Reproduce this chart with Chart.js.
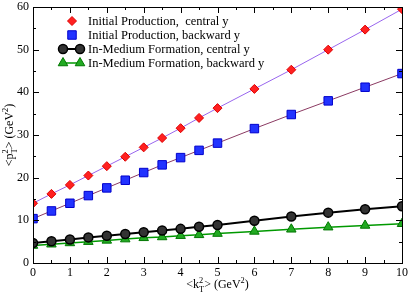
<!DOCTYPE html>
<html>
<head>
<meta charset="utf-8">
<script src="https://cdn.jsdelivr.net/npm/chart.js@4/dist/chart.umd.min.js"></script>
<style>
  html, body { margin: 0; padding: 0; background: #fff; }
  #wrap { width: 409px; height: 294px; }
</style>
</head>
<body>
<div id="wrap"><canvas id="chart" width="409" height="294"></canvas></div>
<script>
// valores
const kT2 = [0, 0.5, 1, 1.5, 2, 2.5, 3, 3.5, 4, 4.5, 5, 6, 7, 8, 9, 10];
const initCentral  = [14.0, 16.2, 18.3, 20.5, 22.7, 24.9, 27.1, 29.3, 31.6, 34.0, 36.3, 40.8, 45.3, 50.0, 54.7, 59.5];
const initBackward = [10.4, 12.2, 14.0, 15.8, 17.6, 19.4, 21.2, 23.0, 24.7, 26.4, 28.1, 31.5, 34.8, 38.0, 41.2, 44.4];
const medCentral   = [4.7, 5.1, 5.5, 6.0, 6.4, 6.8, 7.2, 7.6, 8.0, 8.5, 8.9, 9.9, 10.9, 11.8, 12.6, 13.3];
const medBackward  = [4.1, 4.4, 4.7, 5.0, 5.3, 5.6, 5.9, 6.1, 6.4, 6.6, 6.9, 7.4, 7.9, 8.4, 8.8, 9.2];
const seriesNames = [
  'Initial Production,  central y',
  'Initial Production, backward y',
  'In-Medium Formation, central y',
  'In-Medium Formation, backward y'
];
const xTicks = [0, 1, 2, 3, 4, 5, 6, 7, 8, 9, 10];
const yTicks = [0, 10, 20, 30, 40, 50, 60];

const FONT = "'Liberation Serif', 'DejaVu Serif', serif";

function pts(ys) {
  return kT2.map((x, i) => ({ x: x, y: ys[i] }));
}

// texto con subindices / superindices
function richWidth(ctx, parts, size) {
  let w = 0;
  parts.forEach(p => {
    if (p.t) { ctx.font = size + 'px ' + FONT; w += ctx.measureText(p.t).width; }
    else {
      ctx.font = (size * 0.7) + 'px ' + FONT;
      w += Math.max(ctx.measureText(p.sub || '').width, ctx.measureText(p.sup || '').width);
    }
  });
  return w;
}
function drawRich(ctx, parts, x, y, size) {
  let cx = x - richWidth(ctx, parts, size) / 2;
  ctx.textBaseline = 'alphabetic';
  ctx.textAlign = 'left';
  parts.forEach(p => {
    if (p.t) {
      ctx.font = size + 'px ' + FONT;
      ctx.fillText(p.t, cx, y);
      cx += ctx.measureText(p.t).width;
    } else {
      ctx.font = (size * 0.7) + 'px ' + FONT;
      let w = 0;
      if (p.sub) { ctx.fillText(p.sub, cx, y + size * 0.3); w = ctx.measureText(p.sub).width; }
      if (p.sup) { ctx.fillText(p.sup, cx, y - size * 0.45); w = Math.max(w, ctx.measureText(p.sup).width); }
      cx += w;
    }
  });
}

function drawMarker(ctx, ds, x, y) {
  ctx.save();
  ctx.fillStyle = ds.pointBackgroundColor;
  ctx.strokeStyle = ds.pointBorderColor;
  ctx.lineWidth = ds.pointBorderWidth;
  ctx.beginPath();
  const r = ds.pointRadius;
  if (ds.pointStyle === 'rectRot') {
    ctx.moveTo(x, y - r); ctx.lineTo(x + r, y); ctx.lineTo(x, y + r); ctx.lineTo(x - r, y); ctx.closePath();
  } else if (ds.pointStyle === 'rect') {
    const s = r * Math.SQRT1_2;
    ctx.rect(x - s, y - s, 2 * s, 2 * s);
  } else if (ds.pointStyle === 'triangle') {
    ctx.moveTo(x, y - r); ctx.lineTo(x + r * 0.87, y + r * 0.5); ctx.lineTo(x - r * 0.87, y + r * 0.5); ctx.closePath();
  } else {
    ctx.arc(x, y, r, 0, Math.PI * 2);
  }
  ctx.fill(); ctx.stroke();
  ctx.restore();
}

const framePlugin = {
  id: 'frame',
  afterDraw(chart) {
    const ctx = chart.ctx;
    const a = chart.chartArea;
    const xs = chart.scales.x, ys = chart.scales.y;
    ctx.save();
    ctx.strokeStyle = '#000';
    ctx.lineWidth = 1;
    ctx.strokeRect(Math.round(a.left) + 0.5, Math.round(a.top) + 0.5,
      Math.round(a.right - a.left), Math.round(a.bottom - a.top));
    // marcas hacia dentro
    ctx.beginPath();
    for (let v = 0; v <= 10.001; v += 0.5) {
      const px = Math.round(xs.getPixelForValue(v)) + 0.5;
      const len = (Math.abs(v - Math.round(v)) < 0.01) ? 6 : 3;
      ctx.moveTo(px, a.bottom); ctx.lineTo(px, a.bottom - len);
      ctx.moveTo(px, a.top); ctx.lineTo(px, a.top + len);
    }
    for (let v = 0; v <= 60; v += 5) {
      const py = Math.round(ys.getPixelForValue(v)) + 0.5;
      const len = (v % 10 === 0) ? 6 : 3;
      ctx.moveTo(a.left, py); ctx.lineTo(a.left + len, py);
      ctx.moveTo(a.right, py); ctx.lineTo(a.right - len, py);
    }
    ctx.stroke();

    // titulos de ejes
    ctx.fillStyle = '#000';
    drawRich(ctx, [{ t: '<k' }, { sub: 'T', sup: '2' }, { t: '> (GeV' }, { sup: '2' }, { t: ')' }],
      (a.left + a.right) / 2, 288, 12);
    ctx.save();
    ctx.translate(13, (a.top + a.bottom) / 2);
    ctx.rotate(-Math.PI / 2);
    drawRich(ctx, [{ t: '<p' }, { sub: 'T', sup: '2' }, { t: '> (GeV' }, { sup: '2' }, { t: ')' }],
      0, 0, 12);
    ctx.restore();

    // leyenda
    const rowsY = [21, 35, 49, 63];
    const symX = 72, textX = 88;
    ctx.textBaseline = 'middle';
    ctx.textAlign = 'left';
    seriesNames.forEach((name, i) => {
      const y = rowsY[i];
      const ds = chart.data.datasets[i];
      if (i >= 2) {
        ctx.strokeStyle = ds.borderColor;
        ctx.lineWidth = ds.borderWidth;
        ctx.beginPath(); ctx.moveTo(63, y); ctx.lineTo(80, y); ctx.stroke();
        drawMarker(ctx, ds, 63, y);
        drawMarker(ctx, ds, 80, y);
      } else {
        drawMarker(ctx, ds, symX, y);
      }
      ctx.fillStyle = '#000';
      ctx.font = '12.5px ' + FONT;
      ctx.fillText(name, textX, y + 1);
    });
    ctx.restore();
  }
};

const ctx = document.getElementById('chart').getContext('2d');
new Chart(ctx, {
  type: 'line',
  data: {
    datasets: [
      {
        label: seriesNames[0], data: pts(initCentral),
        borderColor: '#9966ee', borderWidth: 1,
        pointStyle: 'rectRot', pointRadius: 4.5,
        pointBackgroundColor: '#ff2020', pointBorderColor: '#dd0000', pointBorderWidth: 1
      },
      {
        label: seriesNames[1], data: pts(initBackward),
        borderColor: '#8b3a62', borderWidth: 1,
        pointStyle: 'rect', pointRadius: 6,
        pointBackgroundColor: '#2233ff', pointBorderColor: '#0000cc', pointBorderWidth: 1
      },
      {
        label: seriesNames[2], data: pts(medCentral),
        borderColor: '#000000', borderWidth: 2,
        pointStyle: 'circle', pointRadius: 4.5,
        pointBackgroundColor: '#333333', pointBorderColor: '#000000', pointBorderWidth: 1.5
      },
      {
        label: seriesNames[3], data: pts(medBackward),
        borderColor: '#009900', borderWidth: 1.5,
        pointStyle: 'triangle', pointRadius: 5.5,
        pointBackgroundColor: '#22aa22', pointBorderColor: '#007700', pointBorderWidth: 1
      }
    ]
  },
  options: {
    responsive: false,
    animation: false,
    layout: { padding: { top: 5, right: 6, left: 0, bottom: 0 } },
    plugins: { legend: { display: false }, tooltip: { enabled: false } },
    elements: { line: { tension: 0 } },
    scales: {
      x: {
        type: 'linear', min: 0, max: 10,
        afterFit: s => { s.height = 31; s.paddingRight = 0; s.paddingLeft = 0; },
        afterBuildTicks: s => { s.ticks = xTicks.map(v => ({ value: v })); },
        grid: { display: false, drawTicks: false },
        border: { display: false },
        ticks: { color: '#000', padding: 3, maxRotation: 0, font: { family: FONT, size: 12 } }
      },
      y: {
        type: 'linear', min: 0, max: 60,
        afterFit: s => { s.width = 33; s.paddingTop = 0; s.paddingBottom = 0; },
        afterBuildTicks: s => { s.ticks = yTicks.map(v => ({ value: v })); },
        grid: { display: false, drawTicks: false },
        border: { display: false },
        ticks: { color: '#000', padding: 4, font: { family: FONT, size: 12 } }
      }
    }
  },
  plugins: [framePlugin]
});
</script>
</body>
</html>
